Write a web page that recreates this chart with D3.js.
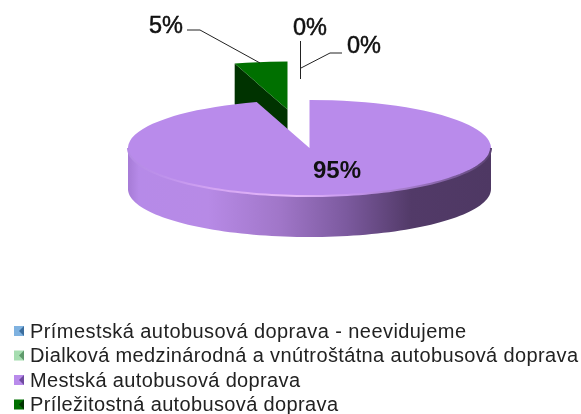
<!DOCTYPE html>
<html><head><meta charset="utf-8">
<script src="https://cdnjs.cloudflare.com/ajax/libs/d3/7.8.5/d3.min.js"></script>
<style>html,body{margin:0;padding:0;background:#fff}svg{display:block;filter:blur(.45px)}</style>
</head><body><svg id="c" width="581" height="414"></svg>
<script>
const categories=["Prímestská autobusová doprava - neevidujeme","Dialková medzinárodná a vnútroštátna autobusová doprava","Mestská autobusová doprava","Príležitostná autobusová doprava"];
const values=[0,0,95.3,4.7];
const sliceColors=["#7FB2E0","#A6DDB0","#B98BEB","#007000"];
const markerDark=["#3C6E9E","#5F9A6B","#6F4BA0","#003300"];
const labels=["0%","0%","95%","5%"];

const svg=d3.select("#c");
const cx=309.5,cy=148,rx=181.5,ry=48,depth=41;
const explode={x:-22,y:-38.5};
const pie=d3.pie().sort(null).value(d=>d);
const arcs=pie(values);
const arc=d3.arc().innerRadius(0).outerRadius(rx);
const yr=ry/rx;
const pt=(a,r=1)=>[Math.sin(a)*rx*r,-Math.cos(a)*ry*r];

const defs=svg.append("defs");
const wallG=defs.append("linearGradient").attr("id","wall").attr("gradientUnits","userSpaceOnUse")
  .attr("x1",cx-rx).attr("x2",cx+rx).attr("y1",0).attr("y2",0);
[[0,"#A67BD6"],[0.03,"#B68AE8"],[0.22,"#B78AE6"],[0.42,"#A076C8"],[0.6,"#7C5A9F"],[0.78,"#523A68"],[1,"#4E3863"]]
 .forEach(s=>wallG.append("stop").attr("offset",s[0]).attr("stop-color",s[1]));
const rimG=defs.append("linearGradient").attr("id","rim").attr("gradientUnits","userSpaceOnUse")
  .attr("x1",cx-rx).attr("x2",cx+rx).attr("y1",0).attr("y2",0);
[[0,"#B48AE4"],[0.1,"#BE92EC"],[0.25,"#D5A6F3"],[0.45,"#E6B9FA"],[0.62,"#C596EE"],[0.8,"#9B74C0"],[1,"#5A4272"]]
 .forEach(s=>rimG.append("stop").attr("offset",s[0]).attr("stop-color",s[1]));

// exploded green slice
const green=arcs[3];
const gx=cx+explode.x,gy=cy+explode.y;
const gs=pt(green.startAngle);
svg.append("path").attr("fill","#003300")
  .attr("d",d3.line()([[gx,gy],[gx+gs[0],gy+gs[1]],[gx+gs[0],gy+gs[1]+depth],[gx,gy+depth]]));
svg.append("g").attr("transform",`translate(${gx},${gy}) scale(1,${yr})`)
  .append("path").attr("d",arc(green)).attr("fill",sliceColors[3]);

// purple wall
const purple=arcs[2];
const lower=d3.range(90,270.5,2).map(d=>d*Math.PI/180);
const wallTop=lower.map(a=>{const p=pt(a);return[cx+p[0],cy+p[1]]});
const wallBot=wallTop.map(p=>[p[0],p[1]+depth]).reverse();
svg.append("path").attr("d",d3.line()(wallTop.concat(wallBot))+"Z").attr("fill","url(#wall)");
// purple top surface
svg.append("g").attr("transform",`translate(${cx},${cy}) scale(1,${yr})`)
  .append("path").attr("d",arc(purple)).attr("fill",sliceColors[2]);
// bevel
svg.append("path").attr("d",d3.line()(wallTop)).attr("fill","none").attr("stroke","url(#rim)").attr("stroke-width",2);

// leaders
const leaders=[
 [[187,30],[200,30],[260,63]],
 [[300.5,41],[300.5,79]],
 [[301,68],[330,53],[342,53]]];
svg.selectAll("path.l").data(leaders).join("path").attr("class","l")
  .attr("d",d=>d3.line()(d)).attr("fill","none").attr("stroke","#222").attr("stroke-width",1);

// data labels
const labelPos=[[310,35],[364,53],[337,178],[166,33]];
svg.selectAll("text.d").data(labels).join("text").attr("class","d")
  .attr("x",(d,i)=>labelPos[i][0]).attr("y",(d,i)=>labelPos[i][1])
  .attr("text-anchor","middle").attr("font-family","Liberation Sans")
  .attr("font-weight",(d,i)=>i===2?"bold":"normal")
  .attr("stroke","#111").attr("stroke-width",(d,i)=>i===2?0:0.5)
  .attr("font-size",(d,i)=>i===2?24:23.5).attr("fill","#111").text(d=>d);

// legend
const rowY=d3.scalePoint().domain(d3.range(categories.length)).range([331,404.5]);
const leg=svg.selectAll("g.lg").data(categories).join("g").attr("class","lg")
  .attr("transform",(d,i)=>`translate(14,${rowY(i)})`);
leg.append("rect").attr("x",0).attr("y",-5).attr("width",10).attr("height",10).attr("fill",(d,i)=>sliceColors[i]);
leg.append("path").attr("d","M10,-5L5,0L10,5Z").attr("fill",(d,i)=>markerDark[i]);
leg.append("text").attr("x",16).attr("y",6.7).attr("font-family","Liberation Sans").attr("font-size",20)
  .attr("fill","#222").attr("textLength",(d,i)=>[436,548,270,308][i]).attr("lengthAdjust","spacing").text(d=>d);
</script></body></html>
